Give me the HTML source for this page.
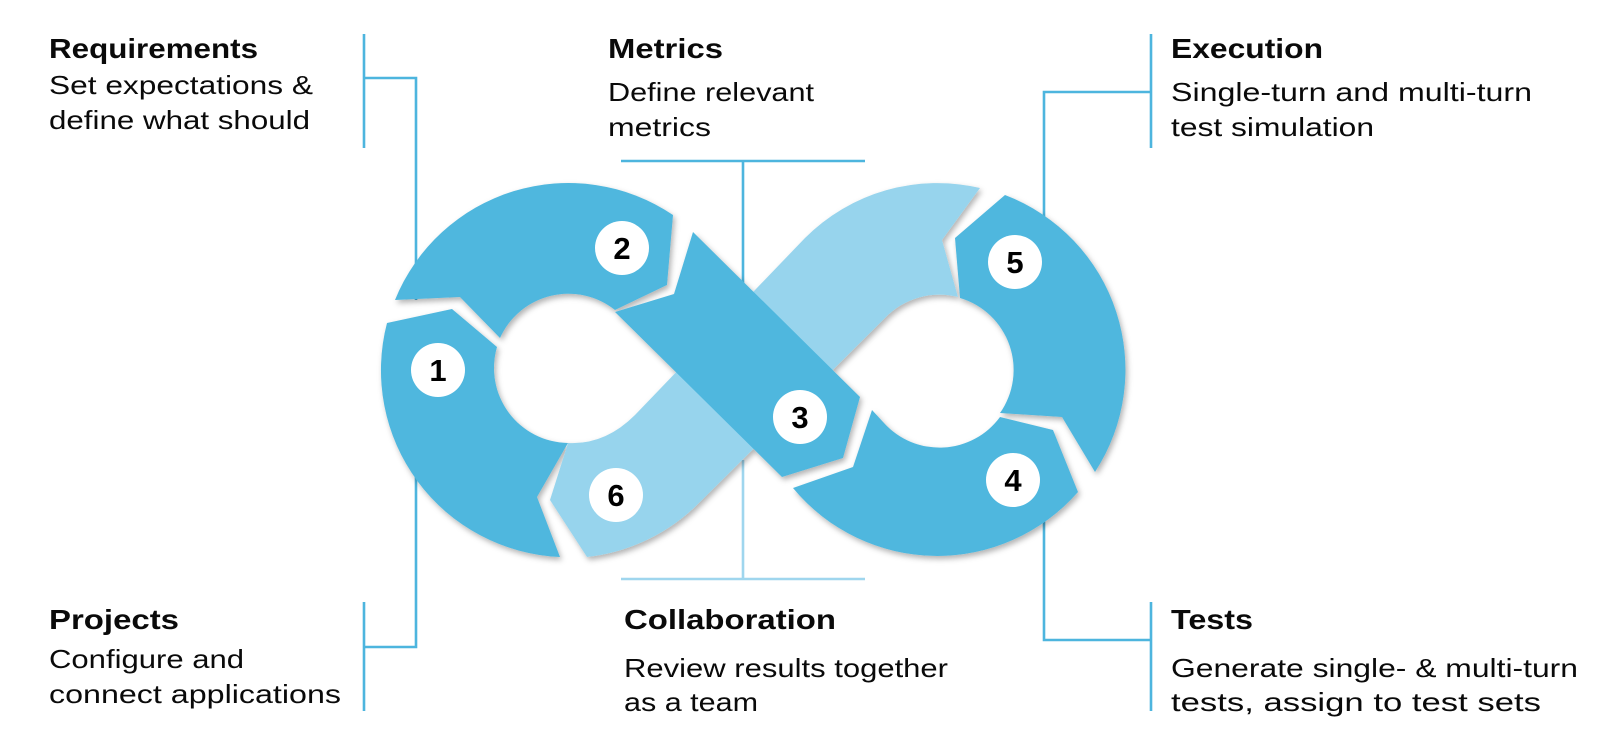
<!DOCTYPE html>
<html><head><meta charset="utf-8"><style>
html,body{margin:0;padding:0;background:#fff;}
svg{display:block;}
.t{font-family:"Liberation Sans",sans-serif;font-weight:bold;font-size:28px;fill:#0a0a0a;}
.b{font-family:"Liberation Sans",sans-serif;font-size:26px;fill:#0a0a0a;}
.n{font-family:"Liberation Sans",sans-serif;font-weight:bold;font-size:31px;fill:#000;text-anchor:middle;}
.ln{stroke:#4db5de;stroke-width:2.6;fill:none;}
.ll{stroke:#9fd6ee;stroke-width:2.6;fill:none;}
</style></head><body>
<svg width="1600" height="748" viewBox="0 0 1600 748" xmlns="http://www.w3.org/2000/svg">
<defs>
<filter id="sh" x="-20%" y="-20%" width="140%" height="140%">
<feDropShadow dx="2" dy="3" stdDeviation="3" flood-color="#000" flood-opacity="0.3"/>
</filter>
</defs>
<path class="ln" d="M364 34V148 M364 78H416V300"/>
<path class="ln" d="M364 602V711 M364 647H416V460"/>
<path class="ln" d="M621 161H865 M743 161V300"/>
<path class="ll" d="M621 579H865 M743 579V460"/>
<path class="ln" d="M1151 34V148 M1151 92H1044V230"/>
<path class="ln" d="M1151 602V711 M1151 640H1044V520"/>
<g filter="url(#sh)">
<path fill="#97d4ed" d="M568,443 Q605,445 635,415 L805,238 A187,187 0 0 1 980,188 L942,240 L958,297 A75,75 0 0 0 885,318 L700,502 A187,187 0 0 1 587,557 L550,500 Z"/>
<path fill="#4fb7de" d="M387,323 L452,309 L497,347 A75,75 0 0 0 568,443 L537,497 L560,557 A187,187 0 0 1 387,323 Z"/>
<path fill="#4fb7de" d="M395,300 A187,187 0 0 1 673,215 L667,285 L615,310 A75,75 0 0 0 500,338 L460,297 Z"/>
<path fill="#4fb7de" d="M615,312 L674,294 L693,232 L860,397 L843,458 L782,477 Z"/>
<path fill="#4fb7de" d="M793,488 A187,187 0 0 0 1078,492 L1053,430 L1000,417 A75,75 0 0 1 884,423 L872,410 L853,467 Z"/>
<path fill="#4fb7de" d="M955,238 L1005,195 A187,187 0 0 1 1095,472 L1062,417 L1000,413 A75,75 0 0 0 960,298 Z"/>
</g>
<g fill="#fff">
<circle cx="438" cy="370" r="27"/><circle cx="622" cy="248" r="27"/><circle cx="800" cy="417" r="27"/>
<circle cx="616" cy="495" r="27"/><circle cx="1015" cy="262" r="27"/><circle cx="1013" cy="480" r="27"/>
</g>
<text class="n" x="438" y="381">1</text>
<text class="n" x="622" y="259">2</text>
<text class="n" x="800" y="428">3</text>
<text class="n" x="616" y="506">6</text>
<text class="n" x="1015" y="273">5</text>
<text class="n" x="1013" y="491">4</text>
<text class="t" x="49" y="58" textLength="209" lengthAdjust="spacingAndGlyphs">Requirements</text>
<text class="b" x="49" y="94" textLength="264" lengthAdjust="spacingAndGlyphs">Set expectations &amp;</text>
<text class="b" x="49" y="129" textLength="261" lengthAdjust="spacingAndGlyphs">define what should</text>
<text class="t" x="608" y="58" textLength="115" lengthAdjust="spacingAndGlyphs">Metrics</text>
<text class="b" x="608" y="101" textLength="206" lengthAdjust="spacingAndGlyphs">Define relevant</text>
<text class="b" x="608" y="136" textLength="103" lengthAdjust="spacingAndGlyphs">metrics</text>
<text class="t" x="1171" y="58" textLength="152" lengthAdjust="spacingAndGlyphs">Execution</text>
<text class="b" x="1171" y="101" textLength="361" lengthAdjust="spacingAndGlyphs">Single-turn and multi-turn</text>
<text class="b" x="1171" y="136" textLength="203" lengthAdjust="spacingAndGlyphs">test simulation</text>
<text class="t" x="49" y="629" textLength="130" lengthAdjust="spacingAndGlyphs">Projects</text>
<text class="b" x="49" y="668" textLength="195" lengthAdjust="spacingAndGlyphs">Configure and</text>
<text class="b" x="49" y="703" textLength="292" lengthAdjust="spacingAndGlyphs">connect applications</text>
<text class="t" x="624" y="629" textLength="212" lengthAdjust="spacingAndGlyphs">Collaboration</text>
<text class="b" x="624" y="677" textLength="324" lengthAdjust="spacingAndGlyphs">Review results together</text>
<text class="b" x="624" y="711" textLength="134" lengthAdjust="spacingAndGlyphs">as a team</text>
<text class="t" x="1171" y="629" textLength="82" lengthAdjust="spacingAndGlyphs">Tests</text>
<text class="b" x="1171" y="677" textLength="407" lengthAdjust="spacingAndGlyphs">Generate single- &amp; multi-turn</text>
<text class="b" x="1171" y="711" textLength="370" lengthAdjust="spacingAndGlyphs">tests, assign to test sets</text>
</svg>
</body></html>
